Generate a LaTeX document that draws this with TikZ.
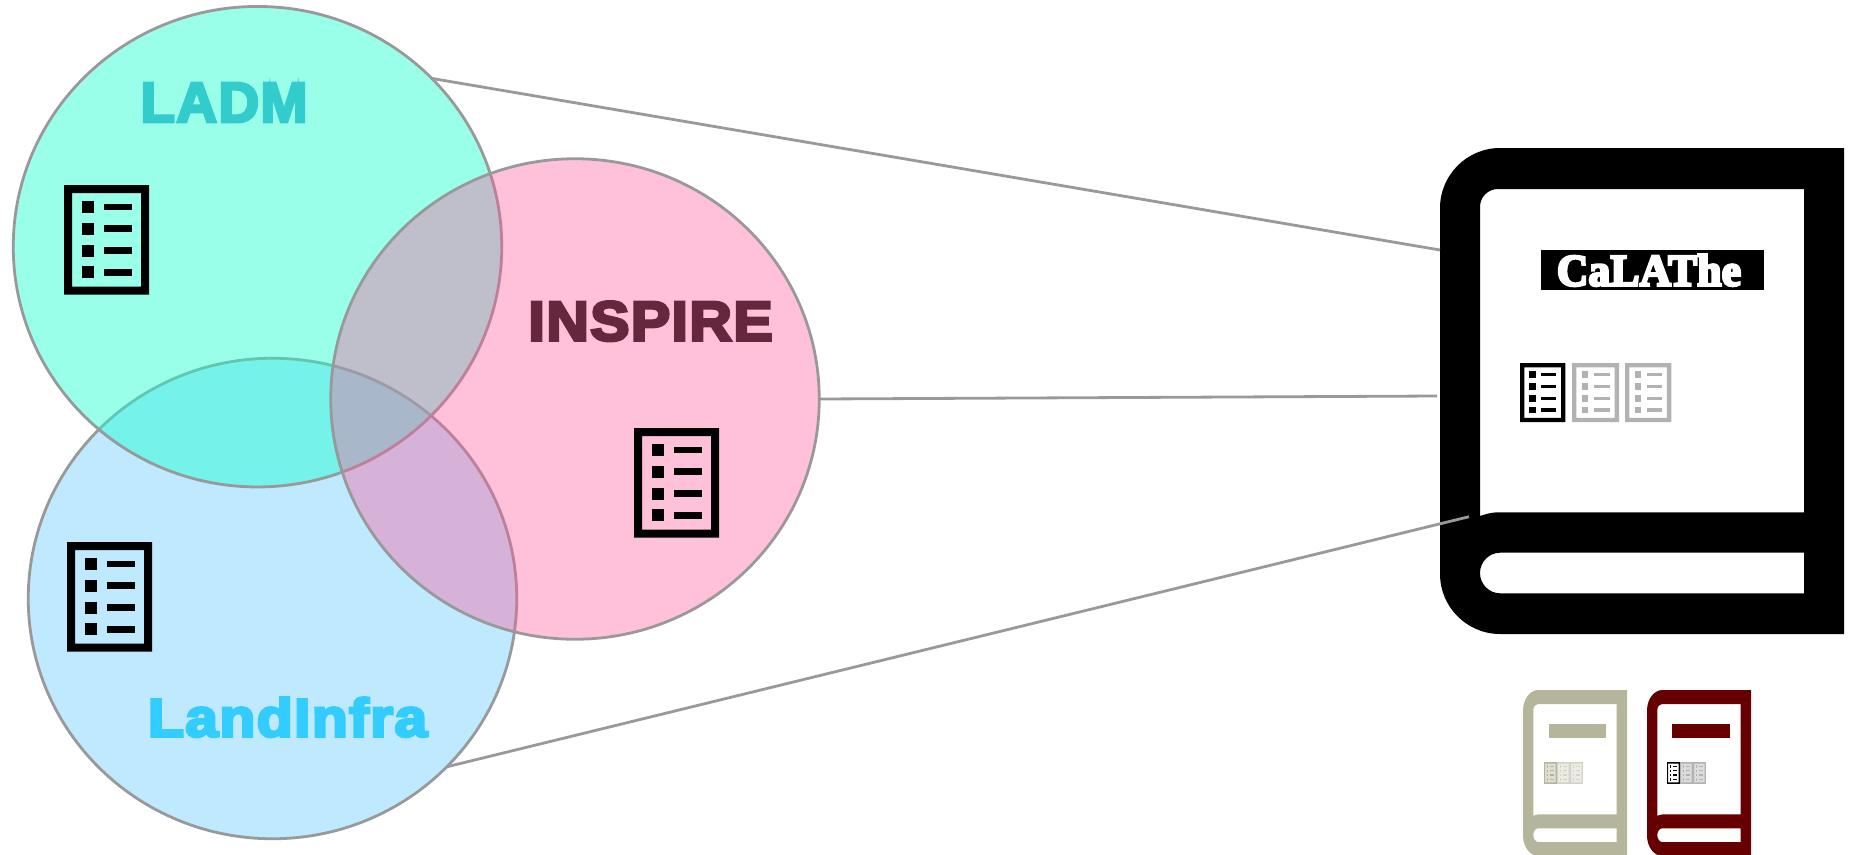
\documentclass[tikz,border=0pt]{standalone}
\usepackage{graphicx}
\usepackage{fontspec}
\usetikzlibrary{shapes.geometric}
\newfontfamily\blackfont[FakeBold=5,LetterSpace=2.5]{Liberation Sans Bold}
\newfontfamily\fatserif[FakeBold=6,LetterSpace=1]{Liberation Serif Bold}
\definecolor{linegray}{HTML}{999999}
\definecolor{liblue}{HTML}{BEE9FF}
\definecolor{ladmc}{HTML}{1DFFCF}
\definecolor{insc}{HTML}{FF5598}
\definecolor{tan}{HTML}{B5B59B}
\definecolor{tanlt}{HTML}{D4D4C6}
\definecolor{darkred}{HTML}{660000}
\definecolor{docgray}{HTML}{B2B2B2}
\tikzset{
  venn/.style={ellipse,inner sep=0pt,outer sep=0pt,minimum width=488.5pt,minimum height=480.5pt,draw=linegray,line width=2.8pt},
  conn/.style={draw=linegray,line width=2.8pt},
  vlabel/.style={inner sep=0pt,outer sep=0pt,anchor=south west},
}
% list-document icon, 85 x 109.5 in its own units
\newcommand{\docicon}[5]{%
  \begin{scope}[shift={(#1,#2)},xscale=#3,yscale=#4]
    \fill[#5,even odd rule] (0,0) rectangle (85,109.5) (8,8) rectangle (77,101.5);
    \foreach \yy in {21.7,43.6,65.6,87.4}{
      \fill[#5] (17.5,\yy-6) rectangle (29.5,\yy+6);
      \fill[#5] (40,\yy-3.2) rectangle (68,\yy+3.2);
    }
  \end{scope}}
% very small icon: the same drawing on a faint tint of its colour
\newcommand{\minidoc}[3]{%
  \fill[#3!45] (#1,#2) rectangle ++(12.7,21.9);
  \docicon{#1}{#2}{.15}{.2}{#3}}
% book outline, 404 x 486 in its own units
\newcommand{\bookicon}[5]{%
  \begin{scope}[shift={(#1,#2)},xscale=#3,yscale=#4]
    \fill[#5,even odd rule]
      (60,0) -- (404,0) -- (404,486) -- (60,486) .. controls (27,486) and (0,459) .. (0,426)
      -- (0,60) .. controls (0,27) and (27,0) .. (60,0) -- cycle
      (58,41) -- (364,41) -- (364,364.3) -- (58,364.3) .. controls (52,364.3) and (46,366) .. (40,368)
      -- (40,59) .. controls (40,49) and (48,41) .. (58,41) -- cycle
      (60,404.7) -- (364,404.7) -- (364,445.3) -- (60,445.3) .. controls (49,445.3) and (40,436) .. (40,425)
      .. controls (40,414) and (49,404.7) .. (60,404.7) -- cycle;
  \end{scope}}
\begin{document}
\begin{tikzpicture}[x=1pt,y=-1pt]
\useasboundingbox (0,0) rectangle (1852,854);
% Venn circles: LandInfra under LADM under INSPIRE
\node[venn,fill=liblue] (landinfra) at (272.5,598.5) {};
\node[venn,fill=ladmc,fill opacity=.45] (ladm) at (257.5,246.7) {};
\node[venn,fill=insc,fill opacity=.373] (inspire) at (575,399) {};
% labels
\node[vlabel,text={rgb,255:red,51;green,204;blue,204}] (tladm) at (140.5,122) {\resizebox{167pt}{39pt}{\blackfont LADM}};
\node[vlabel,text={rgb,255:red,102;green,39;blue,62}] (tins) at (528.5,341) {\resizebox{244pt}{39pt}{\blackfont INSPIRE}};
\node[vlabel,text={rgb,255:red,51;green,204;blue,255}] (tli) at (148,737) {\resizebox{279pt}{39pt}{\blackfont LandInfra}};
% document icons in the circles
\docicon{64}{185}{1}{1}{black}
\docicon{634}{428}{1}{1}{black}
\docicon{67}{542}{1}{1}{black}
% main book
\bookicon{1440}{148}{1}{1}{black}
\node[fill=black,inner sep=0pt,outer sep=0pt,minimum width=223pt,minimum height=40pt,anchor=north west] (title) at (1541,250) {};
\node[inner sep=0pt,outer sep=0pt,text=white,anchor=south west] (tcal) at (1557,286) {\resizebox{184pt}{31pt}{\fatserif CaLAThe}};
\docicon{1520}{363}{.535}{.54}{black}
\docicon{1572}{363}{.553}{.54}{docgray}
\docicon{1625}{363}{.545}{.54}{docgray}
% small books
\bookicon{1523}{690}{.2574}{.3416}{tan}
\fill[tan] (1549,724) rectangle (1606,738);
\minidoc{1544}{762}{tan}
\minidoc{1557}{762}{tanlt}
\minidoc{1570}{762}{tanlt}
\bookicon{1647}{690}{.2574}{.3416}{darkred}
\fill[darkred] (1672,724) rectangle (1730,738);
\docicon{1667}{762}{.15}{.2}{black}
\minidoc{1680}{762}{docgray}
\minidoc{1693}{762}{docgray}
% connectors
\coordinate (e1) at (1440,250);
\coordinate (e2) at (1437,396);
\coordinate (e3) at (1469,516.7);
\draw[conn] (ladm.44.2) -- (e1);
\draw[conn] (inspire.0) -- (e2);
\draw[conn] (landinfra.-44.2) -- (e3);
\end{tikzpicture}
\end{document}
